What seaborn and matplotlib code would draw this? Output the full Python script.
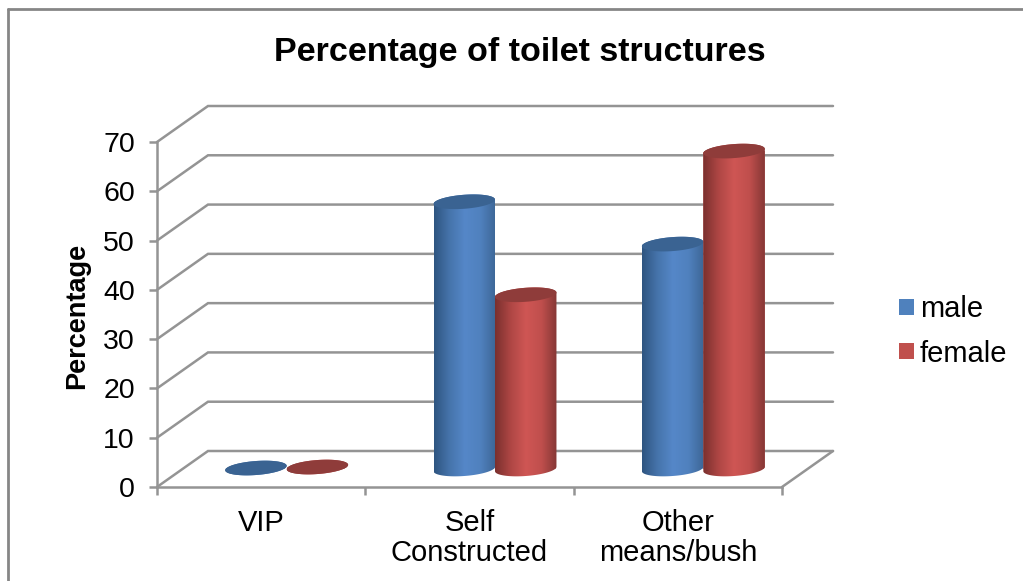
import numpy as np
import pandas as pd
import matplotlib
matplotlib.use("Agg")
import matplotlib.pyplot as plt
import seaborn as sns
from matplotlib.colors import LinearSegmentedColormap
from matplotlib.lines import Line2D
from matplotlib.patches import Polygon

categories = ["VIP", "Self\nConstructed", "Other\nmeans/bush"]
male = [0.2, 54.3, 45.7]
female = [0.4, 35.4, 64.6]
y_ticks = [0, 10, 20, 30, 40, 50, 60, 70]
title = "Percentage of toilet structures"
y_label = "Percentage"
series_names = ["male", "female"]
base_colors = ["#4F81BD", "#C0504D"]
cap_colors = ["#3A6392", "#8F3C3A"]
gradients = [["#2E5580", "#4674AB", "#5587C8", "#5081BE", "#3D6696"],
             ["#7A302E", "#AE4644", "#CF5654", "#C04F4D", "#853735"]]

W, H = 1023, 581
GRID = "#949494"
sns.set_theme(style="white")
plt.rcParams["font.family"] = ["Liberation Sans", "DejaVu Sans"]

df = pd.DataFrame({
    "category": categories * 2,
    "percentage": male + female,
    "sex": [series_names[0]] * 3 + [series_names[1]] * 3,
})

fig = plt.figure(figsize=(W / 100, H / 100), dpi=100, facecolor="white")


def px_axes(x0, x1, y_bottom, y_top):
    return fig.add_axes([x0 / W, 1 - y_bottom / H, (x1 - x0) / W, (y_bottom - y_top) / H])


# outer chart frame (runs off the right and bottom of the crop)
fig.add_artist(Line2D([8 / W, 8 / W], [0, 1 - 9 / H], color="#868686", lw=2.0))
fig.add_artist(Line2D([8 / W, 1], [1 - 9 / H, 1 - 9 / H], color="#868686", lw=2.0))

# front plane: axis lines, ticks, labels, walls
ax_f = px_axes(157, 782, 487, 142)
ax_f.set_xlim(-0.5, 2.5)
ax_f.set_ylim(0, 70)
ax_f.patch.set_alpha(0)
ax_f.set_zorder(1)
sns.despine(ax=ax_f)
for side in ("left", "bottom"):
    ax_f.spines[side].set_color(GRID)
    ax_f.spines[side].set_linewidth(1.8)
ax_f.set_yticks(y_ticks)
ax_f.set_xticks([-0.5, 0.5, 1.5, 2.5])
ax_f.set_xticklabels([])
ax_f.set_xticks([0, 1, 2], labels=categories, minor=True)
ax_f.tick_params(axis="y", which="major", left=True, length=6, width=1.8, color=GRID,
                 labelsize=20.5, pad=10, labelcolor="black")
ax_f.tick_params(axis="x", which="major", bottom=True, length=6, width=1.8, color=GRID)
ax_f.tick_params(axis="x", which="minor", bottom=False, length=0, labelsize=21, pad=15.5,
                 labelcolor="black")
for lab in ax_f.get_xticklabels(minor=True):
    lab.set_linespacing(1.13)
ax_f.set_ylabel(y_label, fontsize=19.5, fontweight="bold", color="black")
ax_f.yaxis.set_label_coords((90 - 157) / 625, (487 - 315.5) / 345)

depth_x = 51 / (625 / 3)
depth_y = 36 / (345 / 70)
for v in y_ticks:
    ax_f.plot([-0.5, -0.5 + depth_x, 2.5 + depth_x], [v, v + depth_y, v + depth_y],
              color=GRID, lw=1.8, clip_on=False, solid_joinstyle="miter")
ax_f.plot([2.5, 2.5 + depth_x], [0, depth_y], color=GRID, lw=1.8, clip_on=False)

# mid-depth plane: the bars
ax_b = px_axes(182.5, 807.5, 469, 124.5)
ax_b.set_zorder(2)
ax_b.patch.set_alpha(0)
sns.barplot(data=df, x="category", y="percentage", hue="sex", order=categories,
            hue_order=series_names, palette=base_colors, width=0.59, gap=0, saturation=1,
            dodge=True, errorbar=None, ax=ax_b, linewidth=0)
ax_b.set_xlim(-0.5, 2.5)
ax_b.set_ylim(0, 70)
handles, labels = ax_b.get_legend_handles_labels()
ax_b.get_legend().remove()

sy = 70 / 344.5
b = 7.0 * sy
s = 2.2 * sy
t_low = np.linspace(np.pi, 2 * np.pi, 60)
t_up = np.linspace(0, np.pi, 60)
z = 3
for i, cont in enumerate(ax_b.containers):
    cmap = LinearSegmentedColormap.from_list(f"c{i}", gradients[i])
    grad = np.linspace(0, 1, 256).reshape(1, -1)
    for bar in cont:
        x0, w, v = bar.get_x(), bar.get_width(), bar.get_height()
        cx, a = x0 + w / 2, w / 2
        # a near-zero bar shows only its cap: keep the side wall inside the cap
        foot = v if v < 1 else 0
        low = np.c_[cx + a * np.cos(t_low), foot + b * np.sin(t_low) + s * np.cos(t_low)]
        up = np.c_[cx + a * np.cos(t_up), v + b * np.sin(t_up) + s * np.cos(t_up)]
        body = Polygon(np.vstack([low, up]), closed=True, transform=ax_b.transData)
        bar.set_clip_box(None)
        bar.set_clip_path(body)
        im = ax_b.imshow(grad, extent=[x0, x0 + w, -b - s, v + b + s], aspect="auto",
                         cmap=cmap, zorder=z, interpolation="bilinear")
        im.set_clip_box(fig.bbox)
        im.set_clip_path(body)
        tt = np.linspace(0, 2 * np.pi, 120)
        ax_b.fill(cx + a * np.cos(tt), v + b * np.sin(tt) + s * np.cos(tt),
                  color=cap_colors[i], lw=0, zorder=z + 0.5, clip_on=False)
        z += 1
ax_b.set_xlim(-0.5, 2.5)
ax_b.set_ylim(0, 70)
ax_b.axis("off")

# legend and title
fig.legend(handles, labels, loc="center left", bbox_to_anchor=(899 / W, 1 - 331.5 / H),
           frameon=False, fontsize=21, handlelength=0.52, handleheight=0.5,
           handletextpad=0.2, labelspacing=0.55, labelcolor="black", borderpad=0,
           borderaxespad=0)
fig.text(520 / W, 1 - 52 / H, title, ha="center", va="center", fontsize=24.5,
         fontweight="bold", color="black")

fig.savefig("out.png", dpi=100)
